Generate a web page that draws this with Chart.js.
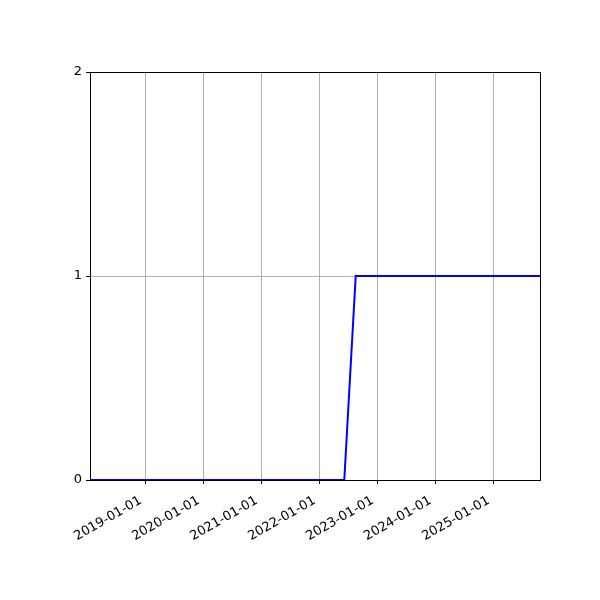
<!DOCTYPE html>
<html>
<head>
<meta charset="utf-8">
<script src="https://cdn.jsdelivr.net/npm/chart.js@4/dist/chart.umd.min.js"></script>
<style>
  html, body { margin: 0; padding: 0; background: #fff; }
  #wrap { width: 600px; height: 600px; }
</style>
</head>
<body>
<div id="wrap"><canvas id="c" width="600" height="600"></canvas></div>
<script>
// Data
const dates = ['2018-01-15', '2022-06-05', '2022-08-16', '2025-10-20'];
const values = [0, 0, 1, 1];
const tickDates = ['2019-01-01', '2020-01-01', '2021-01-01', '2022-01-01', '2023-01-01', '2024-01-01', '2025-01-01'];
const yTicks = [0, 1, 2];

const points = dates.map((d, i) => ({ x: Date.parse(d), y: values[i] }));
const tickValues = tickDates.map(d => Date.parse(d));

function fmt(v) {
  const d = new Date(v);
  const p = n => String(n).padStart(2, '0');
  return d.getUTCFullYear() + '-' + p(d.getUTCMonth() + 1) + '-' + p(d.getUTCDate());
}

const framePlugin = {
  id: 'frame',
  afterDatasetsDraw(chart) {
    const { ctx, chartArea: a } = chart;
    ctx.save();
    ctx.strokeStyle = '#000';
    ctx.lineWidth = 1;
    ctx.strokeRect(Math.round(a.left) + 0.5, Math.round(a.top) + 0.5, Math.round(a.right - a.left), Math.round(a.bottom - a.top));
    ctx.restore();
  }
};

new Chart(document.getElementById('c'), {
  type: 'line',
  data: {
    datasets: [{
      data: points,
      borderColor: '#0000ff',
      borderWidth: 2,
      pointRadius: 0,
      tension: 0,
      fill: false
    }]
  },
  options: {
    responsive: false,
    animation: false,
    devicePixelRatio: 1,
    layout: { padding: { left: 0, top: 72, right: 60, bottom: 0 } },
    plugins: { legend: { display: false }, tooltip: { enabled: false } },
    scales: {
      x: {
        type: 'linear',
        min: points[0].x,
        max: points[points.length - 1].x,
        afterBuildTicks(scale) { scale.ticks = tickValues.map(v => ({ value: v })); },
        afterFit(scale) { scale.height = 120; },
        ticks: {
          callback: v => fmt(v),
          minRotation: 30,
          maxRotation: 30,
          autoSkip: false,
          color: '#000',
          padding: 9,
          labelOffset: -5,
          font: { family: 'DejaVu Sans', size: 13 }
        },
        grid: { color: '#b0b0b0', lineWidth: 1, tickLength: 4, tickColor: '#000', drawTicks: true },
        border: { color: '#000', width: 1 }
      },
      y: {
        type: 'linear',
        min: 0,
        max: 2,
        afterBuildTicks(scale) { scale.ticks = yTicks.map(v => ({ value: v })); },
        afterFit(scale) { scale.width = 90; },
        ticks: {
          color: '#000',
          padding: 4,
          font: { family: 'DejaVu Sans', size: 13 }
        },
        grid: { color: '#b0b0b0', lineWidth: 1, tickLength: 4, tickColor: '#000' },
        border: { color: '#000', width: 1 }
      }
    }
  },
  plugins: [framePlugin]
});
</script>
</body>
</html>
